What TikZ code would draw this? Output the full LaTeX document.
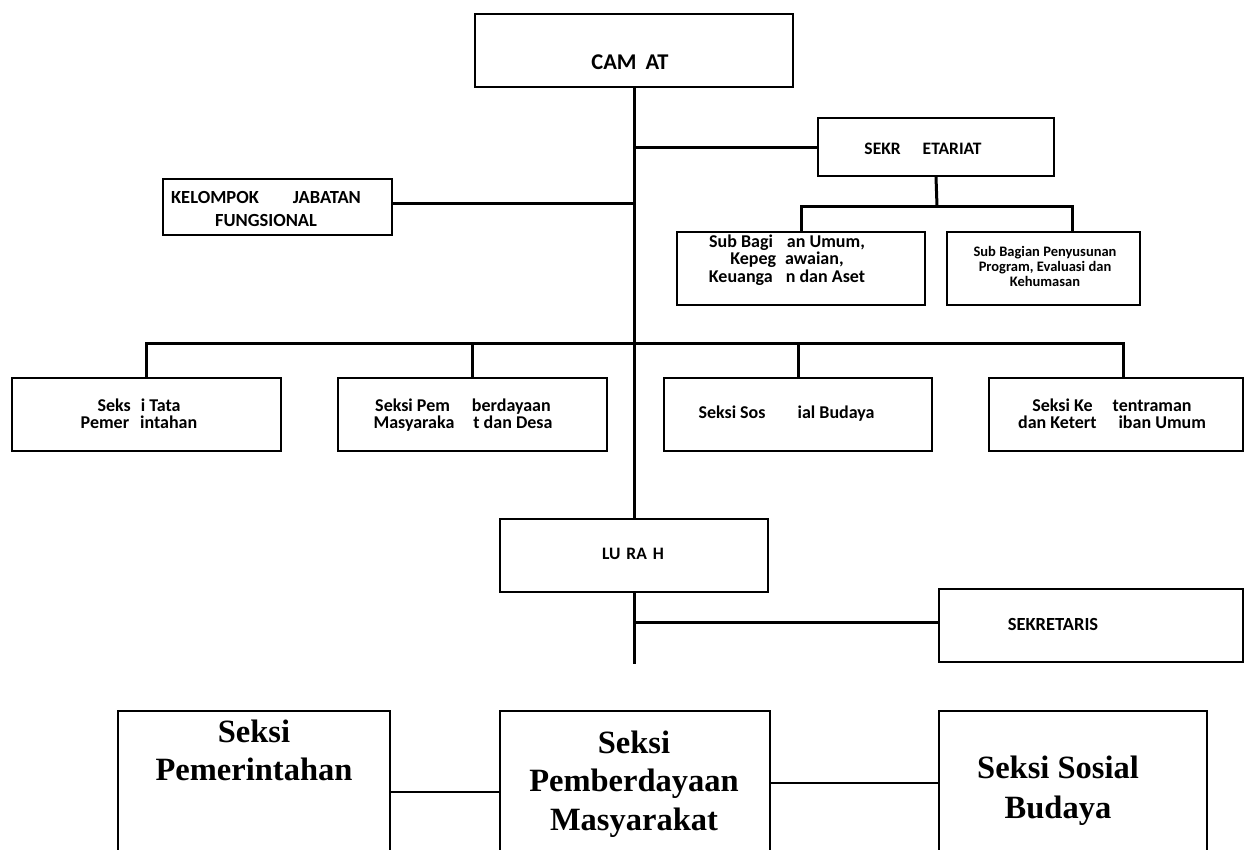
\documentclass[tikz,border=0pt]{standalone}
\usepackage{fontspec}
\setmainfont{Carlito}
\newfontfamily\tnrfont{Liberation Serif}
\newcommand{\mlines}[1]{\begin{tabular}[t]{@{}c@{}}#1\end{tabular}}
\newcommand{\setfsz}[2]{\fontsize{#1pt}{#2pt}\selectfont}
\begin{document}
\begin{tikzpicture}[x=1pt,y=-1pt,
  box/.style={draw, line width=2pt, rectangle, inner sep=0pt},
  openbox/.style={rectangle, inner sep=0pt, outer sep=0pt},
  conn/.style={line width=3pt},
  bconn/.style={line width=2.4pt},
  txt/.style={inner sep=0pt, anchor=base, font=\bfseries},
  btxt/.style={inner sep=0pt, anchor=base, font=\tnrfont\bfseries\setfsz{32.5}{38.5}}
]
\useasboundingbox (0,0) rectangle (1246,849);

% boxes
\node[box, minimum width=318pt, minimum height=73pt] (camat) at (634,50.5) {};
\node[box, minimum width=236pt, minimum height=58pt] (sekretariat) at (936,147) {};
\node[box, minimum width=229pt, minimum height=56pt] (kelompok) at (277.5,207) {};
\node[box, minimum width=248pt, minimum height=73pt] (subbag1) at (801,268.5) {};
\node[box, minimum width=193pt, minimum height=73pt] (subbag2) at (1043.5,268.5) {};
\node[box, minimum width=269pt, minimum height=73pt] (s1) at (146.5,414.5) {};
\node[box, minimum width=269pt, minimum height=73pt] (s2) at (472.5,414.5) {};
\node[box, minimum width=268pt, minimum height=73pt] (s3) at (798,414.5) {};
\node[box, minimum width=254pt, minimum height=73pt] (s4) at (1116,414.5) {};
\node[box, minimum width=268pt, minimum height=73pt] (lurah) at (634,555.5) {};
\node[box, minimum width=304pt, minimum height=73pt] (sekretaris) at (1091,625.5) {};

\node[openbox, minimum width=272pt, minimum height=158pt] (ba) at (254,790) {};
\node[openbox, minimum width=270pt, minimum height=158pt] (bb) at (635,790) {};
\node[openbox, minimum width=268pt, minimum height=158pt] (bc) at (1073,790) {};

% coordinates
\coordinate (sbbar) at (937,206);
\coordinate (sb2c) at (1072,232);
\coordinate (sbar) at (634,343);
\coordinate (s4c) at (1123,378);
\coordinate (trunkend) at (634,664);

% texts
\node[txt, font=\bfseries\setfsz{22.5}{26}] (camatT) at (630,69) {CAM\hspace{9pt}AT};
\node[txt, font=\bfseries\setfsz{17.5}{20}] (sekretariatT) at (923,154) {SEKR\hspace{22pt}ETARIAT};
\node[txt, font=\bfseries\setfsz{18.5}{23}] (kelompokT) at (266,203) {\mlines{KELOMPOK\hspace{34pt}JABATAN\\FUNGSIONAL}};
\node[txt, font=\bfseries\setfsz{18}{16.8}] (subbag1T) at (787,247) {\mlines{Sub Bagi\hspace{14pt}an Umum,\\Kepeg\hspace{9pt}awaian,\\Keuanga\hspace{13pt}n dan Aset}};
\node[txt, font=\bfseries\setfsz{14.5}{15}] (subbag2T) at (1045,256.5) {\mlines{Sub Bagian Penyusunan\\Program, Evaluasi dan\\Kehumasan}};
\node[txt, font=\bfseries\setfsz{18}{16.3}] (s1T) at (139,411) {\mlines{Seks\hspace{10pt}i Tata\\Pemer\hspace{11pt}intahan}};
\node[txt, font=\bfseries\setfsz{18}{16.3}] (s2T) at (463,411) {\mlines{Seksi Pem\hspace{22pt}berdayaan\\Masyaraka\hspace{19pt}t dan Desa}};
\node[txt, font=\bfseries\setfsz{18}{16.3}] (s3T) at (786.5,418.3) {Seksi Sos\hspace{32pt}ial Budaya};
\node[txt, font=\bfseries\setfsz{18}{16.3}] (s4T) at (1112,411) {\mlines{Seksi Ke\hspace{20pt}tentraman\\dan Ketert\hspace{22pt}iban Umum}};
\node[txt, font=\bfseries\setfsz{17.5}{20}] (lurahT) at (633,559) {LU\hspace{6pt}RA\hspace{6pt}H};
\node[txt, font=\bfseries\setfsz{18.5}{20}] (sekretarisT) at (1053,630) {SEKRETARIS};

\node[btxt] (baT) at (254,742) {\mlines{Seksi\\Pemerintahan}};
\node[btxt] (bbT) at (634,753) {\mlines{Seksi\\Pemberdayaan\\Masyarakat}};
\node[btxt, font=\tnrfont\bfseries\setfsz{32.5}{40}] (bcT) at (1058,778) {\mlines{Seksi Sosial\\Budaya}};

% connectors
\draw[conn] (camat.south) -- (lurah.north);
\draw[conn] (lurah.south) -- (trunkend);
\draw[conn] (sekretariat.west) -- (sekretariat.west -| camat.south);
\draw[conn] ([yshift=4pt]kelompok.east) -- ([yshift=4pt]kelompok.east -| camat.south);
\draw[conn] (sekretariat.south) -- (sbbar);
\draw[conn] (subbag1.north) |- (sbbar -| sb2c) -- (sb2c);
\draw[conn] (s1.north) |- (s4c |- sbar) -- (s4c);
\draw[conn] (s2.north) -- (s2.north |- sbar);
\draw[conn] (s3.north) -- (s3.north |- sbar);
\draw[conn] ([yshift=3.5pt]sekretaris.west) -- ([yshift=3.5pt]sekretaris.west -| lurah.south);

% bottom open boxes
\draw[line width=1.4pt] (ba.south west) -- (ba.north west);
\draw[line width=1.4pt] (ba.south east) -- (ba.north east);
\draw[line width=2.4pt] ([xshift=-0.7pt]ba.north west) -- ([xshift=0.7pt]ba.north east);
\draw[line width=1.4pt] (bb.south west) -- (bb.north west);
\draw[line width=1.4pt] (bb.south east) -- (bb.north east);
\draw[line width=2.4pt] ([xshift=-0.7pt]bb.north west) -- ([xshift=0.7pt]bb.north east);
\draw[line width=1.4pt] (bc.south west) -- (bc.north west);
\draw[line width=1.4pt] (bc.south east) -- (bc.north east);
\draw[line width=1.4pt] ([xshift=-0.7pt]bc.north west) -- ([xshift=0.7pt]bc.north east);
\draw[bconn] ([yshift=-2pt]ba.east) -- ([yshift=-2pt]ba.east -| bb.west);
\draw[bconn] ([yshift=7pt]bb.east) -- ([yshift=7pt]bb.east -| bc.west);
\end{tikzpicture}
\end{document}
